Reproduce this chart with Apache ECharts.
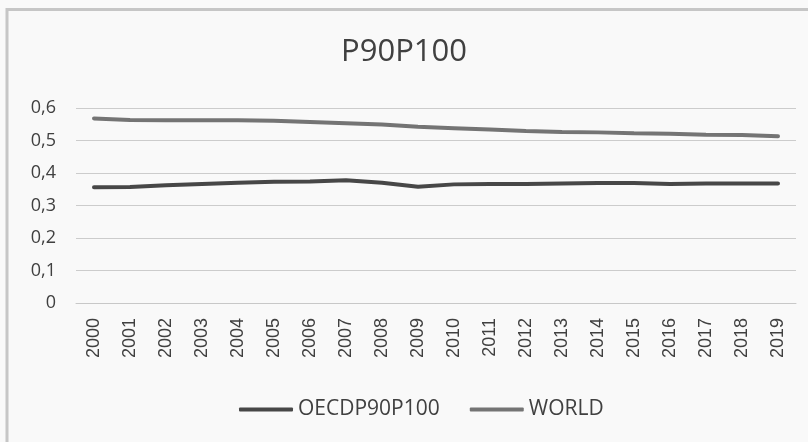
<!DOCTYPE html>
<html><head><meta charset="utf-8">
<script src="https://cdn.jsdelivr.net/npm/echarts@6/dist/echarts.min.js"></script>
<style>html,body{margin:0;padding:0;background:#fff}#c{width:808px;height:442px}</style>
</head><body><div id="c"></div>
<script>
const years = ['2000','2001','2002','2003','2004','2005','2006','2007','2008','2009','2010','2011','2012','2013','2014','2015','2016','2017','2018','2019'];
const oecd = [0.356,0.357,0.362,0.366,0.370,0.373,0.374,0.378,0.370,0.358,0.365,0.366,0.366,0.368,0.369,0.369,0.366,0.368,0.368,0.368];
const world = [0.568,0.563,0.562,0.562,0.562,0.561,0.557,0.553,0.549,0.542,0.538,0.534,0.529,0.526,0.525,0.522,0.521,0.518,0.517,0.513];
const yTicks = [0,0.1,0.2,0.3,0.4,0.5,0.6];

const chart = echarts.init(document.getElementById('c'), null, {renderer:'canvas'});
chart.setOption({
  backgroundColor: '#f9f9f9',
  animation: false,
  graphic: [{type:'rect', shape:{x:7,y:9.5,width:820,height:460}, style:{fill:'none', stroke:'#c6c6c6', lineWidth:3}, silent:true}],
  title: {text:'P90P100', left:'center', top:32, textStyle:{fontFamily:'Open Sans', fontSize:31, fontWeight:'normal', color:'#404040'}},
  grid: {left:76, right:12, top:108, height:195},
  xAxis: {type:'category', data:years, boundaryGap:true,
    axisLine:{lineStyle:{color:'#c8c8c8'}}, axisTick:{show:false},
    axisLabel:{rotate:90, color:'#404040', fontFamily:'Liberation Sans', fontSize:18, margin:15}},
  yAxis: {type:'value', min:0, max:0.6, interval:0.1,
    axisLabel:{color:'#404040', fontFamily:'Open Sans', fontSize:18, margin:20,
      formatter: v => { const t = yTicks.find(x => Math.abs(x - v) < 1e-9); return String(t !== undefined ? t : v).replace('.', ','); }},
    splitLine:{lineStyle:{color:'#cccccc'}}},
  legend: {top:394, left:234, itemWidth:54, itemHeight:4, itemGap:30,
    textStyle:{fontFamily:'Open Sans', fontSize:21, color:'#404040'},
    icon:'roundRect',
    data:['OECDP90P100','WORLD']},
  series: [
    {name:'OECDP90P100', type:'line', data:oecd, symbol:'none', lineStyle:{color:'#474747', width:4, cap:'round'}, itemStyle:{color:'#474747'}},
    {name:'WORLD', type:'line', data:world, symbol:'none', lineStyle:{color:'#747474', width:4, cap:'round'}, itemStyle:{color:'#747474'}}
  ]
});
</script></body></html>
